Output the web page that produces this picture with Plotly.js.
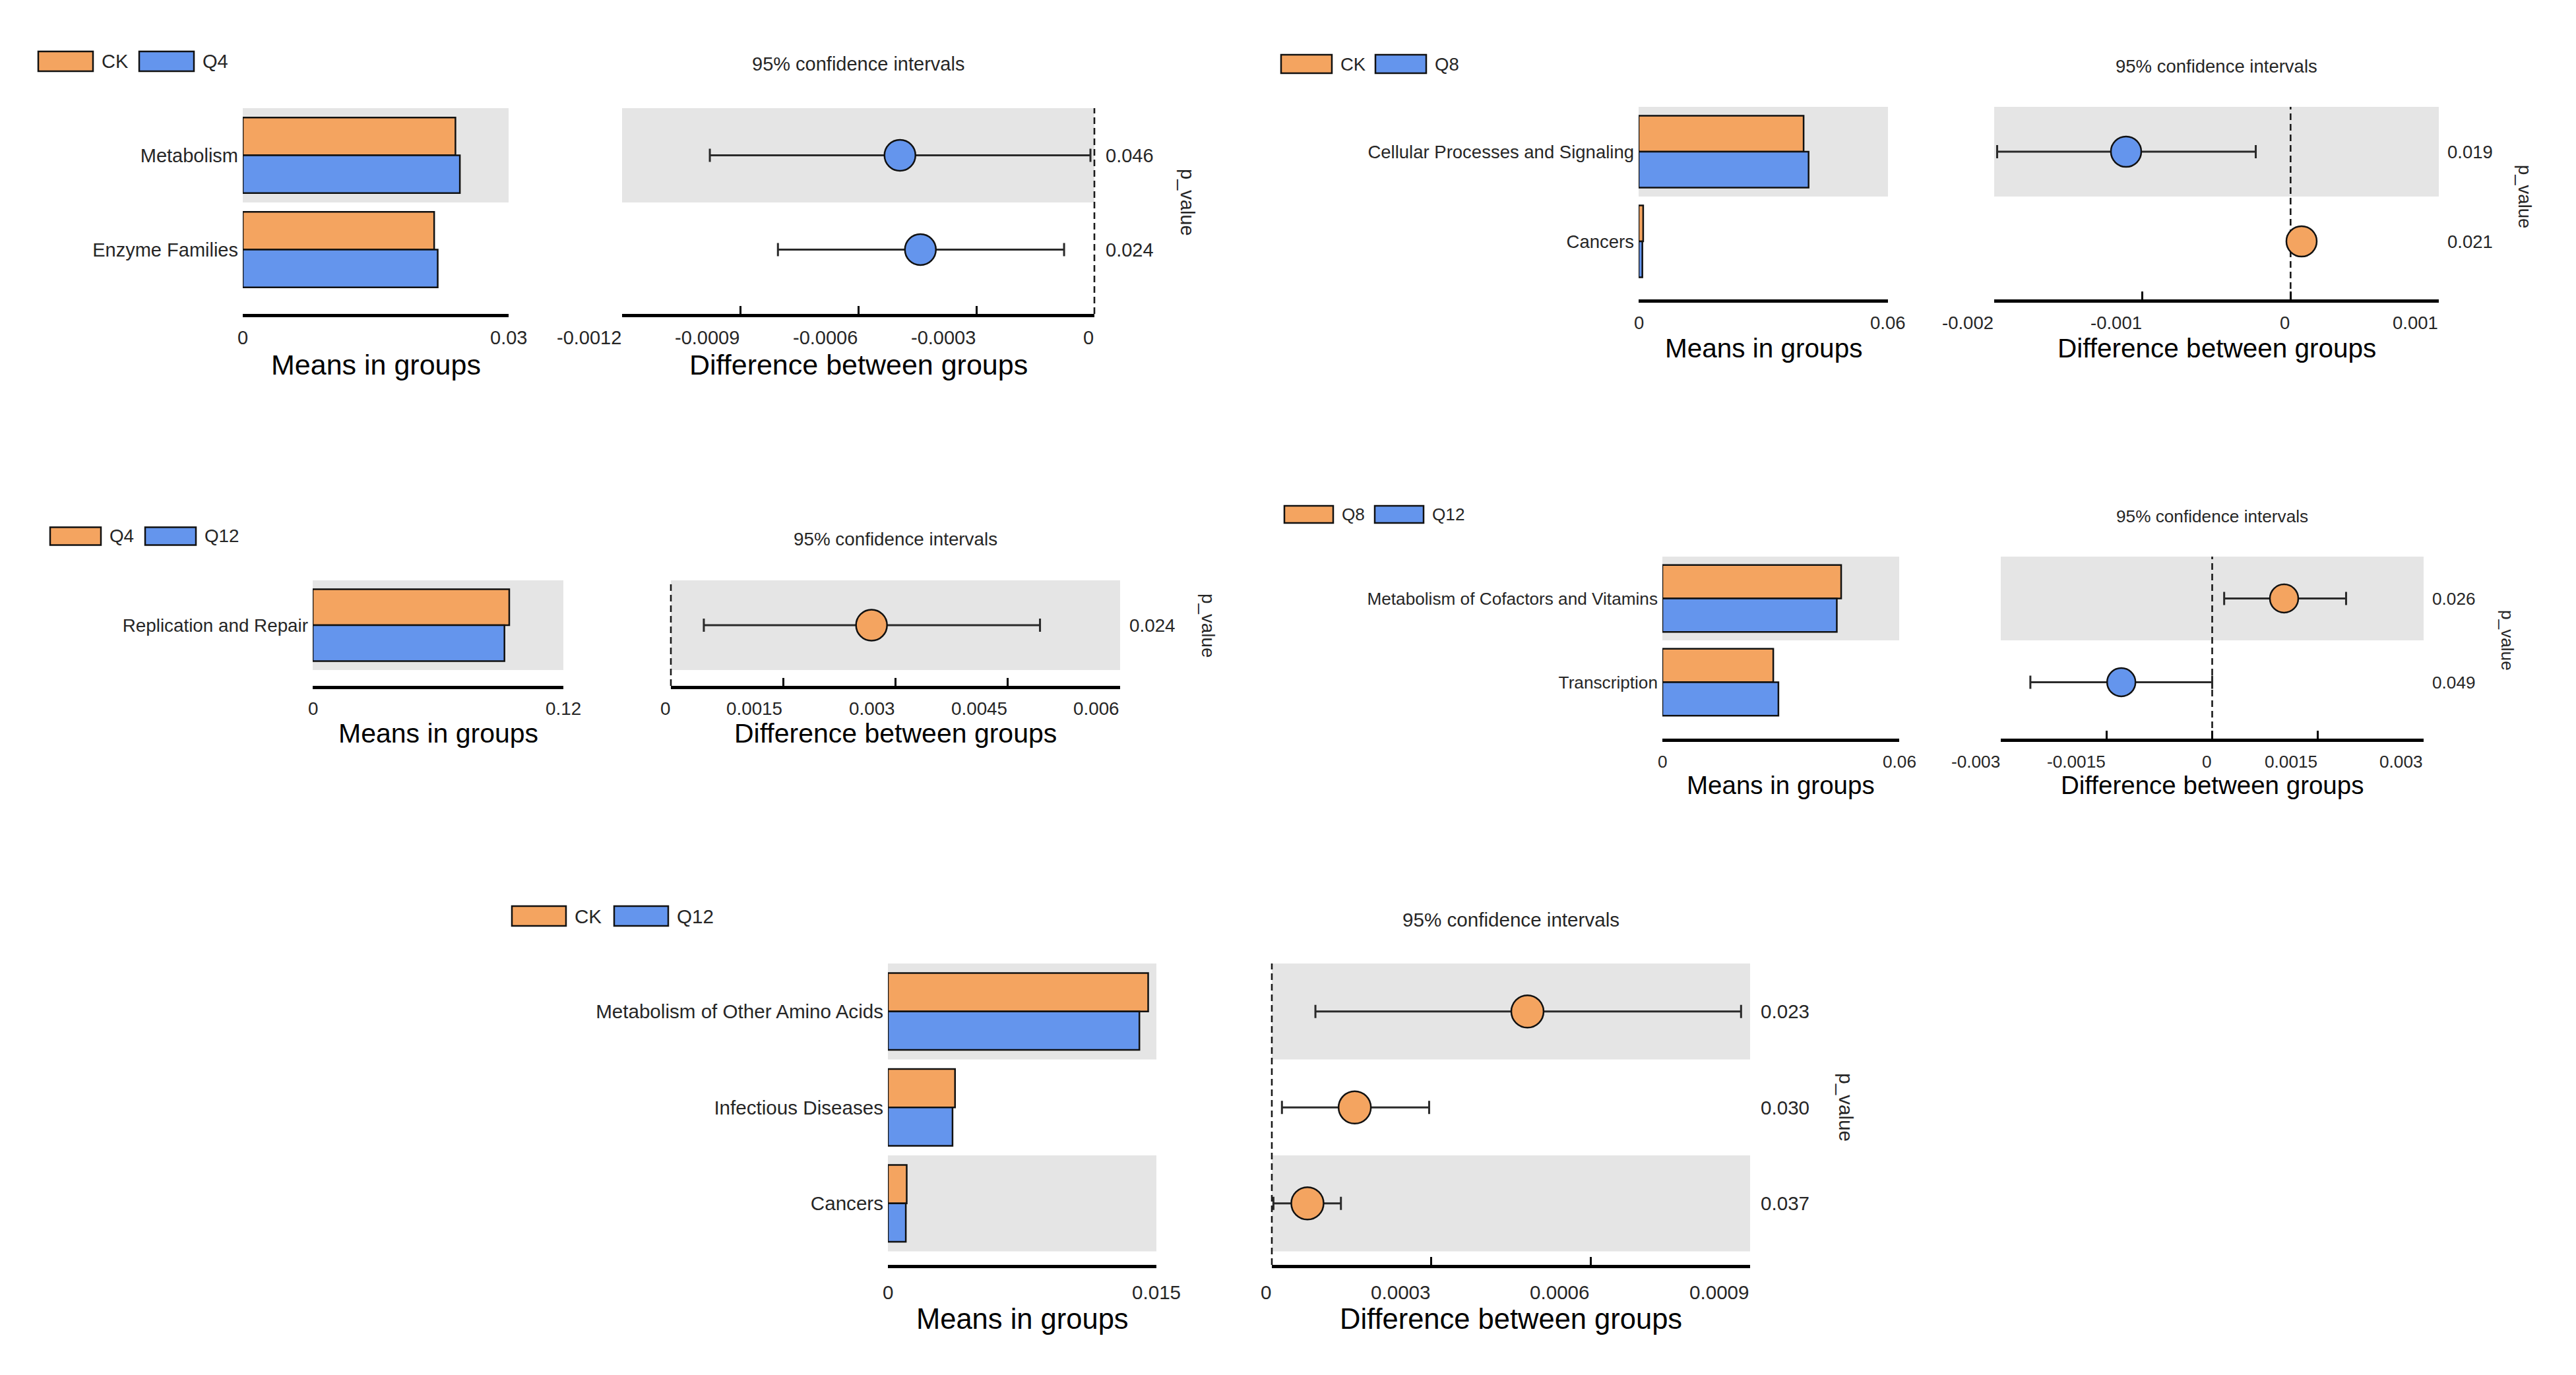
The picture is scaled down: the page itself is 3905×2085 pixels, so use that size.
<!DOCTYPE html>
<html>
<head>
<meta charset="utf-8">
<script src="https://cdn.plot.ly/plotly-3.0.1.min.js"></script>
<style>
html,body{margin:0;padding:0;background:#ffffff;}
#chart{width:3905px;height:2085px;}
</style>
</head>
<body>
<div id="chart"></div>
<script>
// ---------------- DATA ----------------
// Panel 1: CK vs Q4
const p1Groups = ['CK', 'Q4'];
const p1Categories = ['Metabolism', 'Enzyme Families'];
const p1MeanA = [0.0240, 0.0216];
const p1MeanB = [0.0245, 0.0220];
const p1Diff = [-0.000494, -0.000442];
const p1Low = [-0.000977, -0.000804];
const p1High = [-0.000010, -0.000077];
const p1PValues = ['0.046', '0.024'];
const p1MeanTicks = [0, 0.03];
const p1MeanTickText = ['0', '0.03'];
const p1DiffTicks = [-0.0012, -0.0009, -0.0006, -0.0003, 0];
const p1DiffTickText = ['-0.0012', '-0.0009', '-0.0006', '-0.0003', '0'];

// Panel 2: CK vs Q8
const p2Groups = ['CK', 'Q8'];
const p2Categories = ['Cellular Processes and Signaling', 'Cancers'];
const p2MeanA = [0.0397, 0.0011];
const p2MeanB = [0.0409, 0.0009];
const p2Diff = [-0.00111, 0.000074];
const p2Low = [-0.00198, 0.000012];
const p2High = [-0.000235, 0.000150];
const p2PValues = ['0.019', '0.021'];
const p2MeanTicks = [0, 0.06];
const p2MeanTickText = ['0', '0.06'];
const p2DiffTicks = [-0.002, -0.001, 0, 0.001];
const p2DiffTickText = ['-0.002', '-0.001', '0', '0.001'];

// Panel 3: Q4 vs Q12
const p3Groups = ['Q4', 'Q12'];
const p3Categories = ['Replication and Repair'];
const p3MeanA = [0.0941];
const p3MeanB = [0.0918];
const p3Diff = [0.00268];
const p3Low = [0.00044];
const p3High = [0.00493];
const p3PValues = ['0.024'];
const p3MeanTicks = [0, 0.12];
const p3MeanTickText = ['0', '0.12'];
const p3DiffTicks = [0, 0.0015, 0.003, 0.0045, 0.006];
const p3DiffTickText = ['0', '0.0015', '0.003', '0.0045', '0.006'];

// Panel 4: Q8 vs Q12
const p4Groups = ['Q8', 'Q12'];
const p4Categories = ['Metabolism of Cofactors and Vitamins', 'Transcription'];
const p4MeanA = [0.0453, 0.0281];
const p4MeanB = [0.0442, 0.0294];
const p4Diff = [0.00102, -0.00129];
const p4Low = [0.00017, -0.00258];
const p4High = [0.00190, 0.0000];
const p4PValues = ['0.026', '0.049'];
const p4MeanTicks = [0, 0.06];
const p4MeanTickText = ['0', '0.06'];
const p4DiffTicks = [-0.003, -0.0015, 0, 0.0015, 0.003];
const p4DiffTickText = ['-0.003', '-0.0015', '0', '0.0015', '0.003'];

// Panel 5: CK vs Q12
const p5Groups = ['CK', 'Q12'];
const p5Categories = ['Metabolism of Other Amino Acids', 'Infectious Diseases', 'Cancers'];
const p5MeanA = [0.01454, 0.00375, 0.00105];
const p5MeanB = [0.01405, 0.00361, 0.00100];
const p5Diff = [0.000481, 0.000156, 0.000067];
const p5Low = [0.000082, 0.000019, 0.000003];
const p5High = [0.000883, 0.000296, 0.000130];
const p5PValues = ['0.023', '0.030', '0.037'];
const p5MeanTicks = [0, 0.015];
const p5MeanTickText = ['0', '0.015'];
const p5DiffTicks = [0, 0.0003, 0.0006, 0.0009];
const p5DiffTickText = ['0', '0.0003', '0.0006', '0.0009'];

// ---------------- STYLE / GEOMETRY ----------------
const W = 3905, H = 2085;
const ORANGE = '#F4A460', BLUE = '#6495ED', BAND = '#E5E5E5';
const TXT = '#262626', INK = '#111111';
const FONT = '"Liberation Sans", Arial, Helvetica, sans-serif';

const panels = [
  {groups: p1Groups, cats: p1Categories, a: p1MeanA, b: p1MeanB, diff: p1Diff, low: p1Low, high: p1High, p: p1PValues,
   mt: p1MeanTicks, mtt: p1MeanTickText, dt: p1DiffTicks, dtt: p1DiffTickText,
   geo: {lx1: 58, lx2: 211, lw: 83, ly: 93, lh: 30, titleY: 97, bar: [368, 771], ci: [943, 1659],
         top: 164, slot: 143, axisY: 476, tickY: 512, axTitleY: 553, pX: 1675, pvX: 1800, fs: 29, fb: 43, ms: 47}},
  {groups: p2Groups, cats: p2Categories, a: p2MeanA, b: p2MeanB, diff: p2Diff, low: p2Low, high: p2High, p: p2PValues,
   mt: p2MeanTicks, mtt: p2MeanTickText, dt: p2DiffTicks, dtt: p2DiffTickText,
   geo: {lx1: 1942, lx2: 2085, lw: 77, ly: 97, lh: 28, titleY: 100, bar: [2484, 2862], ci: [3023, 3697],
         top: 162, slot: 136, axisY: 454, tickY: 490, axTitleY: 528, pX: 3709, pvX: 3828, fs: 27.5, fb: 40.5, ms: 46}},
  {groups: p3Groups, cats: p3Categories, a: p3MeanA, b: p3MeanB, diff: p3Diff, low: p3Low, high: p3High, p: p3PValues,
   mt: p3MeanTicks, mtt: p3MeanTickText, dt: p3DiffTicks, dtt: p3DiffTickText,
   geo: {lx1: 76, lx2: 220, lw: 77, ly: 813, lh: 27, titleY: 817, bar: [474, 854], ci: [1017, 1698],
         top: 880, slot: 136, axisY: 1040, tickY: 1074, axTitleY: 1112, pX: 1711, pvX: 1831, fs: 27.8, fb: 41, ms: 47}},
  {groups: p4Groups, cats: p4Categories, a: p4MeanA, b: p4MeanB, diff: p4Diff, low: p4Low, high: p4High, p: p4PValues,
   mt: p4MeanTicks, mtt: p4MeanTickText, dt: p4DiffTicks, dtt: p4DiffTickText,
   geo: {lx1: 1947, lx2: 2084, lw: 74, ly: 780, lh: 26, titleY: 783, bar: [2520, 2879], ci: [3033, 3674],
         top: 844, slot: 127, axisY: 1120, tickY: 1155, axTitleY: 1190, pX: 3686, pvX: 3801, fs: 26.2, fb: 38.5, ms: 43}},
  {groups: p5Groups, cats: p5Categories, a: p5MeanA, b: p5MeanB, diff: p5Diff, low: p5Low, high: p5High, p: p5PValues,
   mt: p5MeanTicks, mtt: p5MeanTickText, dt: p5DiffTicks, dtt: p5DiffTickText,
   geo: {lx1: 776, lx2: 931, lw: 82, ly: 1389, lh: 30, titleY: 1394, bar: [1346, 1753], ci: [1928, 2653],
         top: 1461, slot: 145.5, axisY: 1918, tickY: 1959, axTitleY: 2000, pX: 2668, pvX: 2799, fs: 29.6, fb: 43.5, ms: 49}}
];

const px = v => v / W;
const py = v => 1 - v / H;

const traces = [];
const shapes = [];
const annotations = [];
const layout = {
  width: W, height: H, autosize: false,
  margin: {l: 0, r: 0, t: 0, b: 0, pad: 0},
  paper_bgcolor: '#ffffff', plot_bgcolor: 'rgba(0,0,0,0)',
  font: {family: FONT, color: TXT},
  showlegend: false,
  barmode: 'group', bargap: 0.2, bargroupgap: 0,
  shapes: shapes, annotations: annotations
};

function txt(text, x, y, size, opts) {
  return Object.assign({text: text, x: x, y: y, xref: 'paper', yref: 'paper', showarrow: false,
    xanchor: 'center', yanchor: 'middle', font: {family: FONT, size: size, color: TXT}}, opts || {});
}

panels.forEach((p, k) => {
  const g = p.geo;
  const n = p.cats.length;
  const yN = k + 1;
  const yRef = yN === 1 ? 'y' : 'y' + yN;
  const yKey = yN === 1 ? 'yaxis' : 'yaxis' + yN;
  const bN = 2 * k + 1, cN = 2 * k + 2;
  const bRef = bN === 1 ? 'x' : 'x' + bN;
  const bKey = bN === 1 ? 'xaxis' : 'xaxis' + bN;
  const cRef = 'x' + cN, cKey = 'xaxis' + cN;
  const rowsBottom = g.top + n * g.slot;
  const extra = (g.axisY - rowsBottom) / g.slot;
  const ciRange = [p.dt[0], p.dt[p.dt.length - 1]];
  const ciDomain = [px(g.ci[0]), px(g.ci[1])];

  layout[yKey] = {
    domain: [py(g.axisY), py(g.top)], anchor: bRef, type: 'category',
    categoryorder: 'array', categoryarray: p.cats,
    range: [n - 0.5 + extra, -0.5],
    showgrid: false, zeroline: false, showline: false, ticks: '',
    tickfont: {family: FONT, size: g.fs, color: TXT}, ticklabelstandoff: 6, fixedrange: true
  };
  const axCommon = {
    anchor: yRef, showgrid: false, zeroline: false, showline: true, linewidth: 5, linecolor: '#000000',
    ticks: 'inside', ticklen: 12, tickwidth: 3, tickcolor: '#000000', fixedrange: true, showticklabels: false
  };
  layout[bKey] = Object.assign({}, axCommon, {
    domain: [px(g.bar[0]), px(g.bar[1])], range: [p.mt[0], p.mt[p.mt.length - 1]],
    tickmode: 'array', tickvals: p.mt
  });
  layout[cKey] = Object.assign({}, axCommon, {
    domain: ciDomain, range: ciRange,
    tickmode: 'array', tickvals: p.dt
  });

  // alternating grey bands
  for (let i = 0; i < n; i += 2) {
    [bRef, cRef].forEach(xr => {
      shapes.push({type: 'rect', xref: xr + ' domain', x0: 0, x1: 1, yref: yRef, y0: i - 0.5, y1: i + 0.5,
        fillcolor: BAND, line: {width: 0}, layer: 'below'});
    });
  }
  // zero reference line (position of 0 on the CI axis, in paper units so it is not clipped at the edge)
  const zeroPaper = ciDomain[0] + (0 - ciRange[0]) / (ciRange[1] - ciRange[0]) * (ciDomain[1] - ciDomain[0]);
  shapes.push({type: 'line', xref: 'paper', x0: zeroPaper, x1: zeroPaper, yref: yRef + ' domain', y0: 0, y1: 1,
    line: {color: '#1a1a1a', width: 2.6, dash: '10px,6px'}, layer: 'below'});

  // bars
  traces.push({type: 'bar', orientation: 'h', name: p.groups[0], x: p.a, y: p.cats, xaxis: bRef, yaxis: yRef,
    marker: {color: ORANGE, line: {color: INK, width: 2.5}}, hoverinfo: 'x+y'});
  traces.push({type: 'bar', orientation: 'h', name: p.groups[1], x: p.b, y: p.cats, xaxis: bRef, yaxis: yRef,
    marker: {color: BLUE, line: {color: INK, width: 2.5}}, hoverinfo: 'x+y'});

  // confidence intervals
  traces.push({type: 'scatter', mode: 'markers', x: p.diff, y: p.cats, xaxis: cRef, yaxis: yRef, cliponaxis: false,
    marker: {size: g.ms, color: p.diff.map(d => d >= 0 ? ORANGE : BLUE), line: {color: INK, width: 2.5}},
    error_x: {type: 'data', symmetric: false,
      array: p.high.map((h, i) => h - p.diff[i]),
      arrayminus: p.low.map((l, i) => p.diff[i] - l),
      color: '#2a2a2a', thickness: 3, width: 10},
    hoverinfo: 'x+y'});

  // mean-axis tick labels (centred on ticks)
  p.mt.forEach((v, i) => {
    annotations.push({text: p.mtt[i], x: v, xref: bRef, y: py(g.tickY), yref: 'paper', showarrow: false,
      xanchor: 'center', yanchor: 'middle', borderpad: 0, font: {family: FONT, size: g.fs, color: TXT}});
  });
  // CI tick labels (right aligned at tick, as in the original)
  p.dt.forEach((v, i) => {
    annotations.push({text: p.dtt[i], x: v, xref: cRef, y: py(g.tickY), yref: 'paper', showarrow: false,
      xanchor: 'right', yanchor: 'middle', borderpad: 0, font: {family: FONT, size: g.fs, color: TXT}});
  });

  // p-values
  p.p.forEach((v, i) => {
    annotations.push({text: v, x: px(g.pX), xref: 'paper', y: i, yref: yRef, showarrow: false,
      xanchor: 'left', yanchor: 'middle', borderpad: 0, font: {family: FONT, size: g.fs, color: TXT}});
  });
  annotations.push(txt('p_value', px(g.pvX), py((g.top + rowsBottom) / 2), g.fs, {textangle: 90}));

  // titles
  annotations.push(txt('95% confidence intervals', px((g.ci[0] + g.ci[1]) / 2), py(g.titleY), g.fs));
  annotations.push(txt('Means in groups', px((g.bar[0] + g.bar[1]) / 2), py(g.axTitleY), g.fb,
    {font: {family: FONT, size: g.fb, color: '#000000'}}));
  annotations.push(txt('Difference between groups', px((g.ci[0] + g.ci[1]) / 2), py(g.axTitleY), g.fb,
    {font: {family: FONT, size: g.fb, color: '#000000'}}));

  // legend
  [[g.lx1, ORANGE, p.groups[0]], [g.lx2, BLUE, p.groups[1]]].forEach(([x0, col, label]) => {
    shapes.push({type: 'rect', xref: 'paper', yref: 'paper', x0: px(x0), x1: px(x0 + g.lw),
      y0: py(g.ly + g.lh / 2), y1: py(g.ly - g.lh / 2), fillcolor: col, line: {color: INK, width: 2.5}});
    annotations.push(txt(label, px(x0 + g.lw + 11), py(g.ly), g.fs, {xanchor: 'left'}));
  });
});

Plotly.newPlot('chart', traces, layout, {displayModeBar: false, staticPlot: true});
</script>
</body>
</html>
